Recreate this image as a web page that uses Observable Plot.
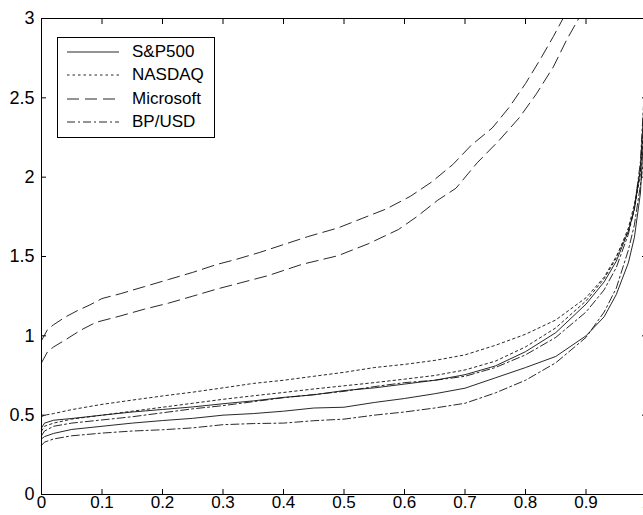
<!DOCTYPE html>
<html><head><meta charset="utf-8">
<script src="https://cdn.jsdelivr.net/npm/d3@7"></script>
<script src="https://cdn.jsdelivr.net/npm/@observablehq/plot@0.6"></script>
<style>
html,body{margin:0;padding:0;background:#fff;overflow:hidden;}
#wrap{position:relative;width:643px;height:515px;overflow:hidden;}
#legend{position:absolute;left:57px;top:37px;width:156px;height:99px;border:1px solid #000;background:#fff;font-family:"Liberation Sans",Arial,sans-serif;font-size:17px;color:#000;}
.item{position:absolute;left:0;height:24px;display:flex;align-items:center;white-space:nowrap;}
.item svg{margin-left:9px;margin-right:13px;}
</style>
</head><body>
<div id="wrap"><div id="chart"></div><div id="legend"></div></div>
<script>
// ---- data ----
const seriesNames = ["S&P500", "NASDAQ", "Microsoft", "BP/USD"];
const xTicks = [0, 0.1, 0.2, 0.3, 0.4, 0.5, 0.6, 0.7, 0.8, 0.9, 1];
const xTickLabels = ["0", "0.1", "0.2", "0.3", "0.4", "0.5", "0.6", "0.7", "0.8", "0.9", "1"];
const yTicks = [0, 0.5, 1, 1.5, 2, 2.5, 3];
const yTickLabels = ["0", "0.5", "1", "1.5", "2", "2.5", "3"];

const xs = [0, 0.005, 0.02, 0.05, 0.1, 0.15, 0.2, 0.25, 0.3, 0.35, 0.4, 0.45, 0.5, 0.55, 0.6, 0.65, 0.7, 0.75, 0.8, 0.85, 0.9, 0.93, 0.95, 0.97, 0.98, 0.99, 0.995];
const spUpper = [0.42, 0.45, 0.468, 0.479, 0.50, 0.52, 0.536, 0.552, 0.572, 0.59, 0.612, 0.628, 0.655, 0.672, 0.696, 0.72, 0.755, 0.81, 0.90, 1.02, 1.20, 1.34, 1.47, 1.66, 1.80, 2.05, 2.4];
const spLower = [0.35, 0.365, 0.385, 0.41, 0.43, 0.45, 0.466, 0.48, 0.50, 0.51, 0.525, 0.545, 0.55, 0.58, 0.605, 0.635, 0.67, 0.735, 0.80, 0.87, 1.00, 1.12, 1.26, 1.46, 1.62, 1.9, 2.25];
const nqUpper = [0.49, 0.50, 0.51, 0.535, 0.568, 0.595, 0.621, 0.645, 0.672, 0.70, 0.72, 0.745, 0.77, 0.80, 0.82, 0.845, 0.88, 0.94, 1.01, 1.10, 1.24, 1.37, 1.50, 1.66, 1.80, 2.02, 2.3];
const nqLower = [0.40, 0.43, 0.45, 0.475, 0.50, 0.525, 0.55, 0.575, 0.60, 0.622, 0.643, 0.665, 0.685, 0.705, 0.727, 0.75, 0.785, 0.84, 0.93, 1.05, 1.22, 1.36, 1.49, 1.68, 1.83, 2.05, 2.3];
const bpUpper = [0.37, 0.40, 0.43, 0.45, 0.47, 0.49, 0.515, 0.54, 0.56, 0.585, 0.61, 0.63, 0.65, 0.68, 0.705, 0.72, 0.745, 0.80, 0.88, 0.99, 1.15, 1.29, 1.43, 1.64, 1.80, 2.1, 2.45];
const bpLower = [0.31, 0.33, 0.35, 0.37, 0.387, 0.40, 0.408, 0.42, 0.44, 0.447, 0.45, 0.465, 0.475, 0.50, 0.52, 0.545, 0.575, 0.64, 0.72, 0.83, 0.99, 1.15, 1.30, 1.54, 1.70, 1.95, 2.1];

const msUpperX = [0, 0.01, 0.02, 0.04, 0.06, 0.08, 0.1, 0.13, 0.17, 0.21, 0.25, 0.29, 0.32, 0.36, 0.4, 0.44, 0.49, 0.53, 0.57, 0.61, 0.645, 0.68, 0.71, 0.745, 0.773, 0.8, 0.824, 0.846, 0.862];
const msUpper = [0.97, 1.04, 1.07, 1.12, 1.16, 1.195, 1.235, 1.265, 1.31, 1.355, 1.40, 1.45, 1.48, 1.525, 1.575, 1.625, 1.68, 1.74, 1.80, 1.88, 1.97, 2.08, 2.20, 2.31, 2.44, 2.59, 2.74, 2.886, 3.0];
const msLowerX = [0, 0.01, 0.02, 0.04, 0.065, 0.09, 0.13, 0.17, 0.21, 0.25, 0.29, 0.33, 0.375, 0.43, 0.49, 0.54, 0.59, 0.62, 0.655, 0.685, 0.72, 0.756, 0.79, 0.818, 0.846, 0.868, 0.888];
const msLower = [0.83, 0.90, 0.93, 0.976, 1.036, 1.085, 1.125, 1.168, 1.206, 1.25, 1.295, 1.335, 1.38, 1.45, 1.505, 1.58, 1.67, 1.75, 1.855, 1.93, 2.09, 2.23, 2.376, 2.525, 2.695, 2.865, 3.0];

// ---- build ----
const dashes = [null, "2.5,3", "12,6", "8,3,2,3"];
function pair(xu, up, xl, lo) {
  return [
    ...xu.map((x, i) => ({x, y: up[i], z: "upper"})),
    ...xl.map((x, i) => ({x, y: lo[i], z: "lower"}))
  ];
}
const seriesData = [
  pair(xs, spUpper, xs, spLower),
  pair(xs, nqUpper, xs, nqLower),
  pair(msUpperX, msUpper, msLowerX, msLower),
  pair(xs, bpUpper, xs, bpLower)
];
const fmtX = d => xTickLabels[xTicks.indexOf(d)];
const fmtY = d => yTickLabels[yTicks.indexOf(d)];

const lineMarks = seriesData.map((data, k) =>
  Plot.line(data, {x: "x", y: "y", z: "z", stroke: "#111", strokeWidth: 0.9,
    strokeDasharray: dashes[k] || undefined})
);

const chart = Plot.plot({
  width: 643,
  height: 515,
  marginLeft: 41,
  marginRight: -3,
  marginTop: 18,
  marginBottom: 21,
  style: {fontFamily: "'Liberation Sans', Arial, sans-serif", fontSize: "18px", background: "#fff", overflow: "hidden", color: "#000"},
  x: {domain: [0, 1]},
  y: {domain: [0, 3]},
  marks: [
    ...lineMarks,
    Plot.frame({stroke: "#000", strokeWidth: 1}),
    Plot.axisX(xTicks, {anchor: "bottom", tickSize: -5, tickPadding: 6, tickFormat: fmtX, label: null, fontSize: 17}),
    Plot.axisX(xTicks, {anchor: "top", tickSize: -5, tickFormat: () => "", label: null}),
    Plot.axisY(yTicks, {anchor: "left", tickSize: -5, tickPadding: 12, tickFormat: fmtY, label: null, fontSize: 18}),
    Plot.axisY(yTicks, {anchor: "right", tickSize: -5, tickFormat: () => "", label: null})
  ]
});
document.getElementById("chart").appendChild(chart);

// legend
const legend = document.getElementById("legend");
seriesNames.forEach((name, k) => {
  const item = document.createElement("div");
  item.className = "item";
  item.style.top = (2 + k * 23.3) + "px";
  const ns = "http://www.w3.org/2000/svg";
  const s = document.createElementNS(ns, "svg");
  s.setAttribute("width", "52"); s.setAttribute("height", "10");
  const l = document.createElementNS(ns, "line");
  l.setAttribute("x1", "0"); l.setAttribute("x2", "52");
  l.setAttribute("y1", "5"); l.setAttribute("y2", "5");
  l.setAttribute("stroke", "#111"); l.setAttribute("stroke-width", "0.9");
  if (dashes[k]) l.setAttribute("stroke-dasharray", dashes[k]);
  s.appendChild(l);
  const t = document.createElement("span");
  t.textContent = name;
  item.appendChild(s); item.appendChild(t);
  legend.appendChild(item);
});
</script>
</body></html>
